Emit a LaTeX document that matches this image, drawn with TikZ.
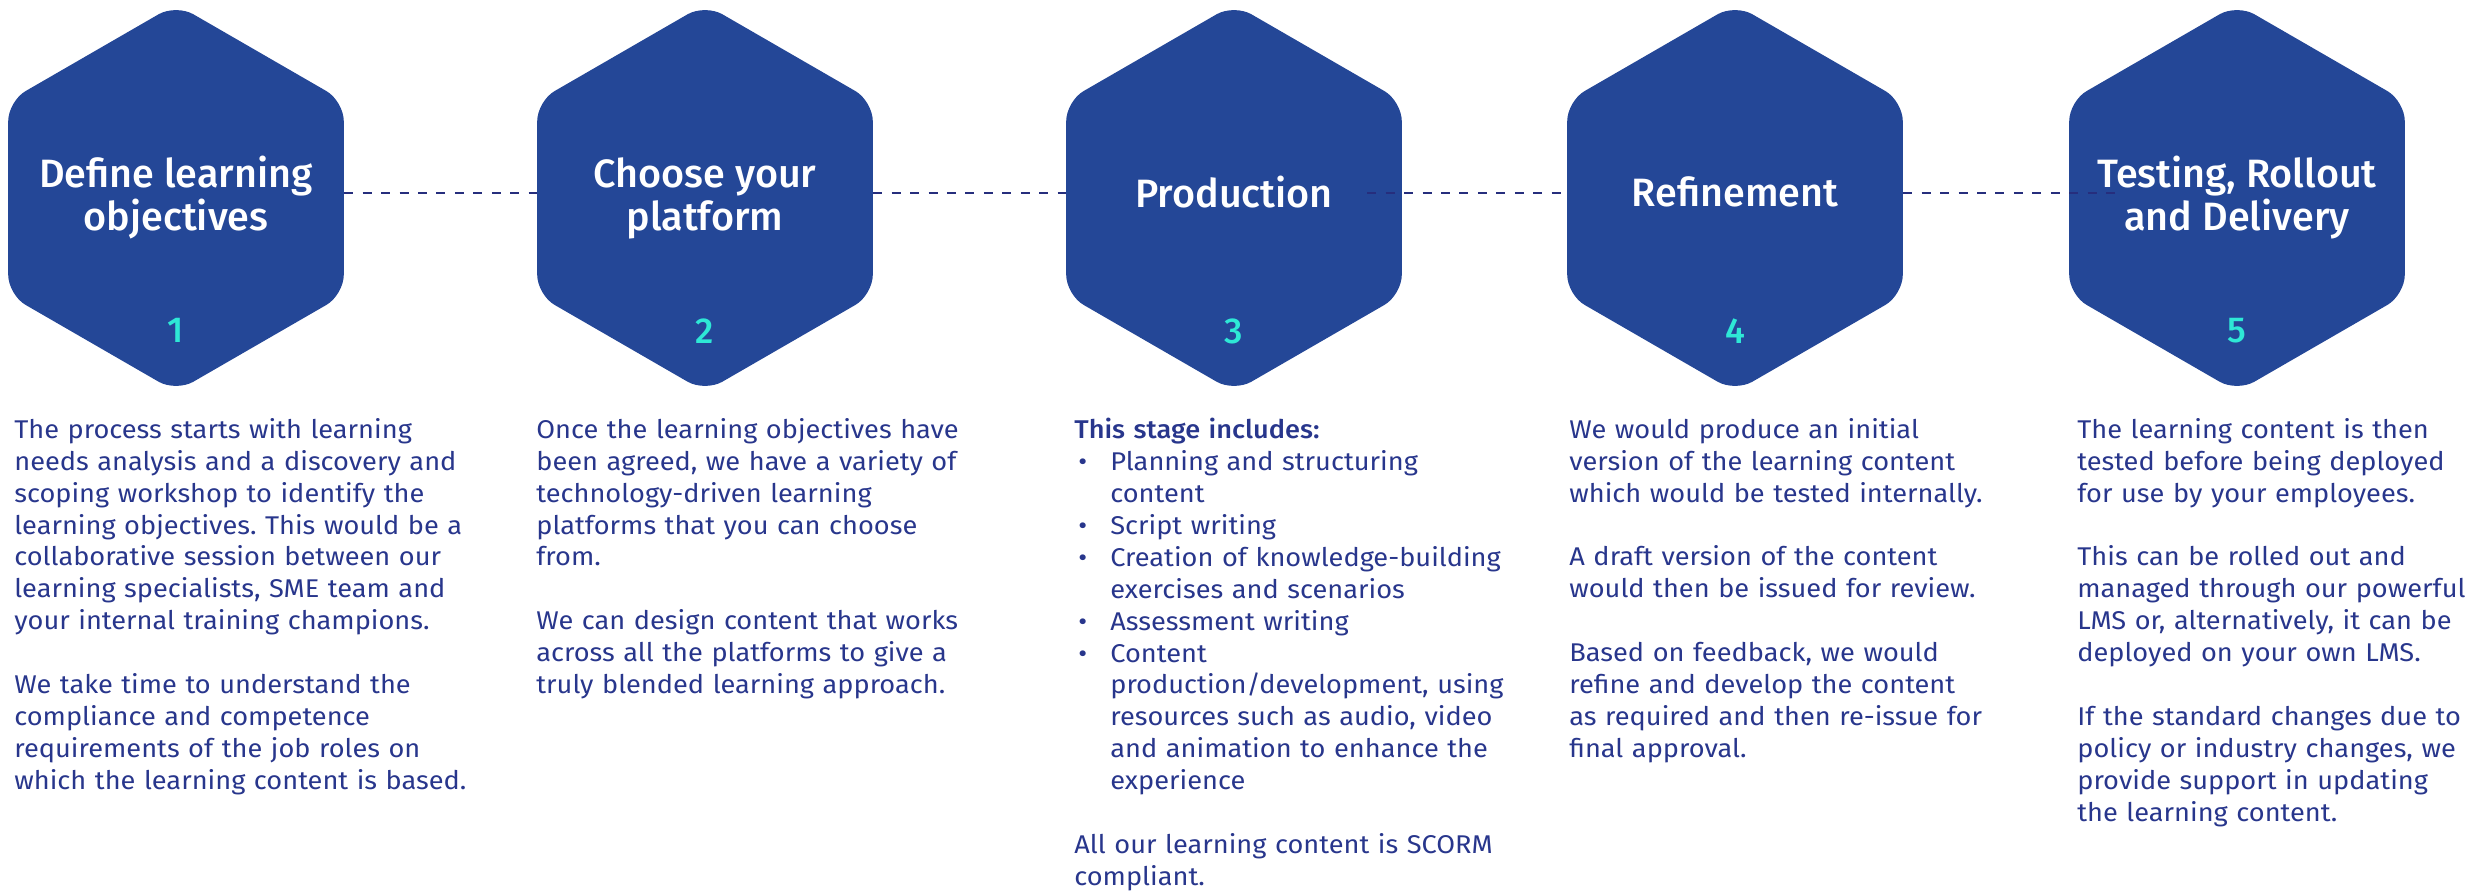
\documentclass[tikz,border=0pt]{standalone}
\usepackage{fontspec}
\setmainfont{Fira Sans}[FakeStretch=1.06]
\newfontfamily\medfont{Fira Sans Medium}
\newfontfamily\leadfont{Fira Sans Medium}[FakeStretch=1.06]
\usepackage{tikz}
\usetikzlibrary{shapes.geometric}
\definecolor{stageblue}{RGB}{36,71,151}
\definecolor{stagecyan}{RGB}{46,232,214}
\definecolor{descblue}{RGB}{40,54,140}
\definecolor{linkblue}{RGB}{38,46,125}
\tikzstyle{stage} = [regular polygon, regular polygon sides=6, shape border rotate=90, minimum size=7.75cm, inner sep=0pt, rounded corners=0.4cm, fill=stageblue]
\tikzstyle{title} = [inner sep=0pt, text=white, align=center, font=\fontsize{22.5}{24.5}\selectfont\medfont]
\tikzstyle{num} = [inner sep=0pt, text=stagecyan, font=\fontsize{20.5}{24}\selectfont\medfont]
\tikzstyle{desc} = [anchor=north west, inner sep=0pt, text width=10cm, align=left, text=descblue, font=\fontsize{14.6}{18.15}\selectfont\frenchspacing]
\tikzstyle{link} = [draw=linkblue, line width=1.7pt, dash pattern=on 5.1pt off 5.4pt]
\newcommand{\gap}{\\[0.638cm]}
\newcommand{\bul}{\hangindent=0.72cm\hangafter=1\noindent\makebox[0.72cm][l]{\hspace{0.08cm}\textbullet}}

\begin{document}
\begin{tikzpicture}
\useasboundingbox (0,0) rectangle (49.58,-17.82);
\node (s1) [stage] at (3.52,-3.96) {};
\node (s2) [stage] at (14.10,-3.96) {};
\node (s3) [stage] at (24.68,-3.96) {};
\node (s4) [stage] at (34.70,-3.96) {};
\node (s5) [stage] at (44.74,-3.96) {};
\node (t1) [title] at (s1.center) {Define learning\\objectives};
\node (t2) [title] at (s2.center) {Choose your\\platform};
\node (t3) [title, yshift=0.12cm] at (s3.center) {Production};
\node (t4) [title, yshift=0.12cm] at (s4.center) {Refinement};
\node (t5) [title] at (s5.center) {Testing, Rollout\\and Delivery};
\node (n1) [num, below=2.4cm] at (s1.center) {1};
\node (n2) [num, below=2.4cm] at (s2.center) {2};
\node (n3) [num, below=2.4cm] at (s3.center) {3};
\node (n4) [num, below=2.4cm] at (s4.center) {4};
\node (n5) [num, below=2.4cm] at (s5.center) {5};
\draw [link] ([yshift=0.1cm]s1.0) -- ([yshift=0.1cm]s2.180);
\draw [link] ([yshift=0.1cm]s2.0) -- ([yshift=0.1cm]s3.180);
\draw [link] ([xshift=-0.7cm,yshift=0.1cm]s3.0) -- ([yshift=0.1cm]s4.180);
\draw [link] ([yshift=0.1cm]s4.0) -- ([xshift=1.1cm,yshift=0.1cm]s5.180);
\node (d1) [desc] at (0.28,-8.36) {The process starts with learning\\needs analysis and a discovery and\\scoping workshop to identify the\\learning objectives. This would be a\\collaborative session between our\\learning specialists, SME team and\\your internal training champions.\gap We take time to understand the\\compliance and competence\\requirements of the job roles on\\which the learning content is based.};
\node (d2) [desc] at (10.72,-8.36) {Once the learning objectives have\\been agreed, we have a variety of\\technology-driven learning\\platforms that you can choose\\from.\gap We can design content that works\\across all the platforms to give a\\truly blended learning approach.};
\node (d3) [desc] at (21.48,-8.36) {{\leadfont This stage includes:}\par
\bul Planning and structuring\newline content\par
\bul Script writing\par
\bul Creation of knowledge-building\newline exercises and scenarios\par
\bul Assessment writing\par
\bul Content\newline production/development, using\newline resources such as audio, video\newline and animation to enhance the\newline experience\par
\vspace{0.638cm}\noindent All our learning content is SCORM\\compliant.};
\node (d4) [desc] at (31.38,-8.36) {We would produce an initial\\version of the learning content\\which would be tested internally.\gap A draft version of the content\\would then be issued for review.\gap Based on feedback, we would\\refine and develop the content\\as required and then re-issue for\\final approval.};
\node (d5) [desc] at (41.54,-8.36) {The learning content is then\\tested before being deployed\\for use by your employees.\gap This can be rolled out and\\managed through our powerful\\LMS or, alternatively, it can be\\deployed on your own LMS.\gap If the standard changes due to\\policy or industry changes, we\\provide support in updating\\the learning content.};
\end{tikzpicture}
\end{document}
